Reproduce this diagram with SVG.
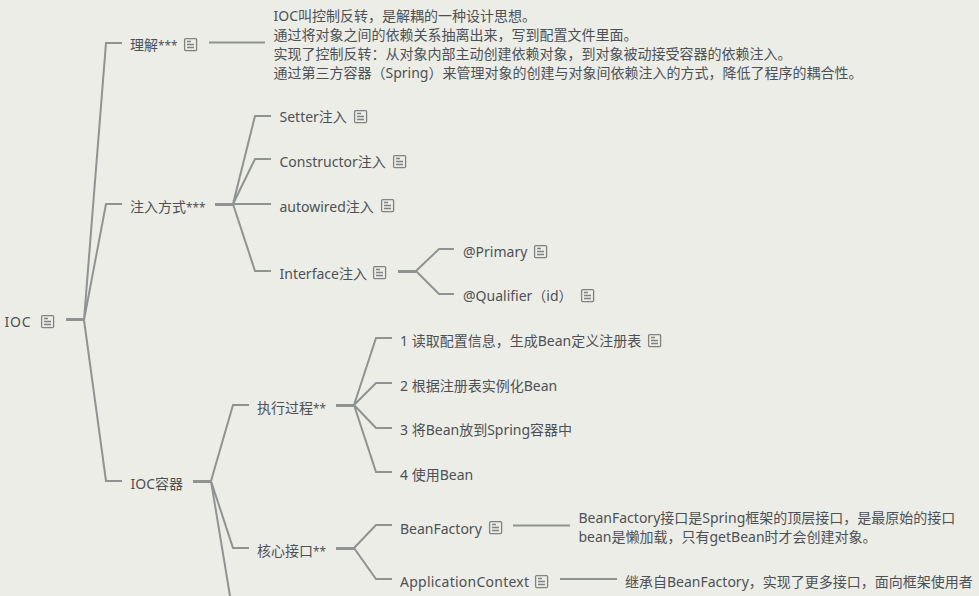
<svg xmlns="http://www.w3.org/2000/svg" width="979" height="596" viewBox="0 0 979 596">
<style>
text{font-family:"Noto Sans","Noto Sans CJK SC",sans-serif;font-size:14px;fill:#4d5157}
.s{font-size:11.700px}
.c{fill:none;stroke:#8f9391;stroke-width:2}
.t{fill:none;stroke:#8f9391;stroke-width:3}
.n{fill:none;stroke:#7f8382;stroke-width:1.300}
</style>
<defs>
<g id="note"><rect x="0.600" y="0.600" width="12" height="12" rx="1" class="n"/><path d="M3 3.500H7M3 6.500H10M3 9.500H10" class="n"/></g>
</defs>
<rect width="979" height="596" fill="#ecede6"/>
<g id="connectors">
<path class="t" d="M66 319.500H84"/>
<path class="c" d="M84 320L106 43H122M84 320L106 204H122M84 320L106 481H122"/>
<path class="c" d="M209 42.500H265"/>
<path class="t" d="M215 204.500H233"/>
<path class="c" d="M233 204L255 116H271M233 204L255 159H271M233 204H271M233 204L255 271H271"/>
<path class="t" d="M398 271.500H416"/>
<path class="c" d="M416 271L439 249H454M416 271L439 294H454"/>
<path class="t" d="M193 481.500H211"/>
<path class="c" d="M211 481L233 405H249M211 481L233 548H249M211 481L230 596"/>
<path class="t" d="M336 405.500H354"/>
<path class="c" d="M354 405L376 338H392M354 405L376 383H392M354 405L376 428H392M354 405L376 472H392"/>
<path class="t" d="M336 548.500H354"/>
<path class="c" d="M354 548L376 525H392M354 548L376 579H392"/>
<path class="c" d="M513 525.500H570M560 579H617"/>
</g>
<g id="ioc"><text x="4.500" y="327" textLength="26">IOC</text><use href="#note" x="41" y="315"/></g>
<g id="lijie"><text x="130" y="50">理解<tspan class="s">***</tspan></text><use href="#note" x="184" y="38"/></g>
<g id="lijie-note"><text x="273.500" y="21">IOC叫控制反转，是解耦的一种设计思想。</text><text x="273.500" y="40">通过将对象之间的依赖关系抽离出来，写到配置文件里面。</text><text x="273.500" y="59">实现了控制反转：从对象内部主动创建依赖对象，到对象被动接受容器的依赖注入。</text><text x="273.500" y="78">通过第三方容器（Spring）来管理对象的创建与对象间依赖注入的方式，降低了程序的耦合性。</text></g>
<g id="zhuru"><text x="130" y="212">注入方式<tspan class="s">***</tspan></text></g>
<g id="setter"><text x="279.500" y="122">Setter注入</text><use href="#note" x="354" y="110"/></g>
<g id="constructor"><text x="279.500" y="167">Constructor注入</text><use href="#note" x="393" y="155"/></g>
<g id="autowired"><text x="279.500" y="212">autowired注入</text><use href="#note" x="381" y="199"/></g>
<g id="interface"><text x="279.500" y="279">Interface注入</text><use href="#note" x="373" y="266"/></g>
<g id="primary"><text x="463" y="257">@Primary</text><use href="#note" x="534" y="245"/></g>
<g id="qualifier"><text x="463" y="301">@Qualifier（id）</text><use href="#note" x="581" y="289"/></g>
<g id="ioc-container"><text x="130.500" y="489">IOC容器</text></g>
<g id="process"><text x="257" y="413">执行过程<tspan class="s">**</tspan></text></g>
<g id="step1"><text x="400" y="346">1 读取配置信息，生成Bean定义注册表</text><use href="#note" x="648" y="334"/></g>
<g id="step2"><text x="400" y="391">2 根据注册表实例化Bean</text></g>
<g id="step3"><text x="400" y="435">3 将Bean放到Spring容器中</text></g>
<g id="step4"><text x="400" y="480">4 使用Bean</text></g>
<g id="core"><text x="257" y="556">核心接口<tspan class="s">**</tspan></text></g>
<g id="beanfactory"><text x="400" y="534">BeanFactory</text><use href="#note" x="489" y="521"/></g>
<g id="beanfactory-note"><text x="578.500" y="523">BeanFactory接口是Spring框架的顶层接口，是最原始的接口</text><text x="578.500" y="542">bean是懒加载，只有getBean时才会创建对象。</text></g>
<g id="appcontext"><text x="400" y="587" textLength="129">ApplicationContext</text><use href="#note" x="535" y="575"/></g>
<g id="appcontext-note"><text x="625" y="587">继承自BeanFactory，实现了更多接口，面向框架使用者</text></g>
</svg>
